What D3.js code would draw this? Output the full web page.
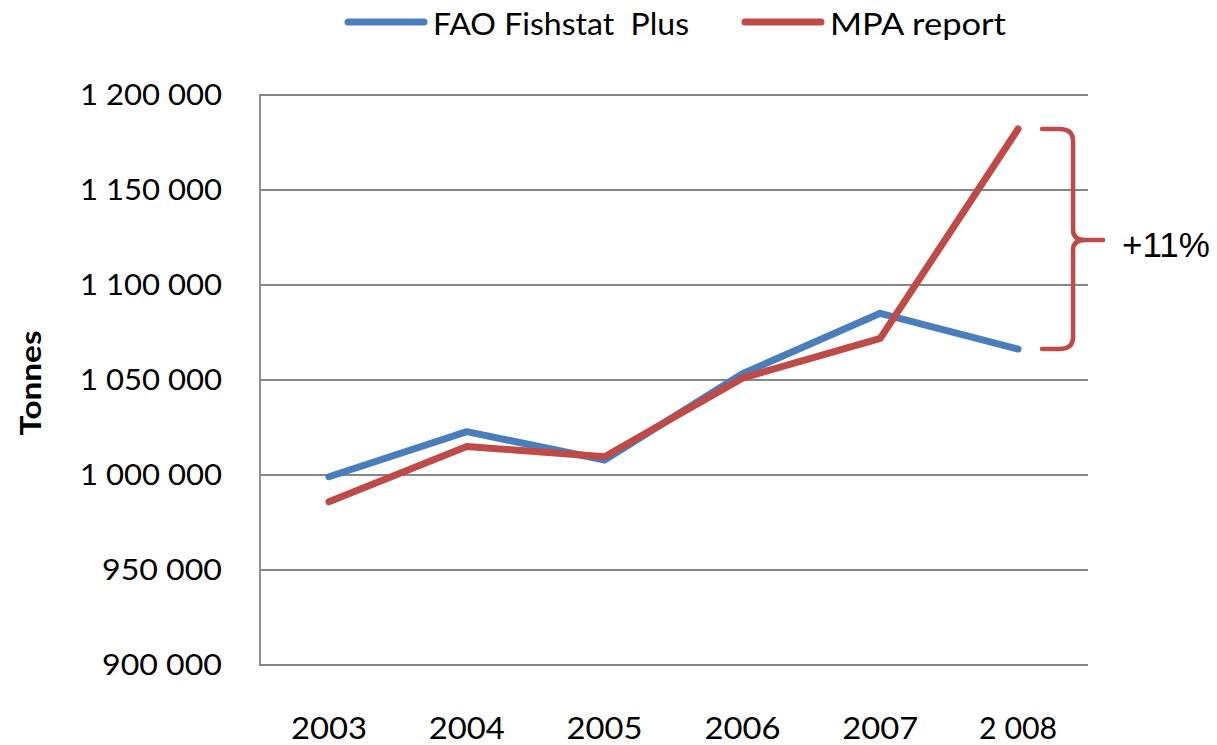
<!DOCTYPE html>
<html><head><meta charset="utf-8">
<script src="https://cdn.jsdelivr.net/npm/d3@7"></script>
<style>body{margin:0;background:#fff}svg{display:block}text{white-space:pre}</style>
</head><body>
<script>
const years = ["2003","2004","2005","2006","2007","2 008"];
const faoValues = [999100, 1022800, 1007900, 1053300, 1085100, 1066300];
const mpaValues = [985900, 1015000, 1009600, 1051000, 1071900, 1182100];
const yTicks = [900000, 950000, 1000000, 1050000, 1100000, 1150000, 1200000];
const seriesNames = ["FAO Fishstat  Plus", "MPA report"];
const annotation = "+11%";

const W = 1217, H = 745;
const m = {left: 260, right: 1087, top: 95, bottom: 665};
const svg = d3.select("body").append("svg").attr("width", W).attr("height", H);
const font = "Lato, 'Open Sans', sans-serif";

const x = d3.scaleBand().domain(years).range([m.left, m.right]);
const y = d3.scaleLinear().domain([900000, 1200000]).range([m.bottom, m.top]);
const fmt = v => d3.format(",")(v).replace(/,/g, " ");

// gridlines
svg.append("g").selectAll("line").data(yTicks.filter(t => t > 900000)).join("line")
  .attr("x1", m.left).attr("x2", m.right + 1)
  .attr("y1", d => y(d)).attr("y2", d => y(d))
  .attr("stroke", "#868686").attr("stroke-width", 1.8);

// axes lines
svg.append("line").attr("x1", m.left).attr("x2", m.left).attr("y1", m.top - 1).attr("y2", m.bottom + 1)
  .attr("stroke", "#868686").attr("stroke-width", 1.8);
svg.append("line").attr("x1", m.left - 1).attr("x2", m.right + 1).attr("y1", m.bottom).attr("y2", m.bottom)
  .attr("stroke", "#868686").attr("stroke-width", 1.8);

// y tick labels
svg.append("g").selectAll("text").data(yTicks).join("text")
  .attr("x", 222).attr("y", d => y(d)).attr("dy", "0.36em")
  .attr("text-anchor", "end").attr("font-family", font).attr("font-size", 29)
  .attr("textLength", d => d >= 1000000 ? 142 : 120).attr("lengthAdjust", "spacingAndGlyphs")
  .attr("fill", "#000").text(d => fmt(d));

// x tick labels
svg.append("g").selectAll("text").data(years).join("text")
  .attr("x", d => x(d) + x.bandwidth() / 2).attr("y", 739)
  .attr("text-anchor", "middle").attr("font-family", font).attr("font-size", 30)
  .attr("textLength", d => d.length > 4 ? 78 : 76).attr("lengthAdjust", "spacingAndGlyphs")
  .attr("fill", "#000").text(d => d);

// y axis title
svg.append("text").attr("transform", "translate(41,383) rotate(-90)")
  .attr("text-anchor", "middle").attr("font-family", font).attr("font-weight", "bold")
  .attr("font-size", 28).attr("textLength", 105).attr("lengthAdjust", "spacingAndGlyphs")
  .text("Tonnes");

// lines
const line = d3.line().x((d, i) => x(years[i]) + x.bandwidth() / 2).y(d => y(d));
const colors = ["#4A7EBB", "#BE4B48"];
[faoValues, mpaValues].forEach((vals, k) => {
  svg.append("path").datum(vals).attr("d", line)
    .attr("fill", "none").attr("stroke", colors[k]).attr("stroke-width", 7)
    .attr("stroke-linecap", "round").attr("stroke-linejoin", "round");
});

// legend
const legend = [
  {x1: 348, x2: 424, tx: 433, len: 256},
  {x1: 745, x2: 821, tx: 830, len: 176}
];
legend.forEach((l, k) => {
  svg.append("line").attr("x1", l.x1).attr("x2", l.x2).attr("y1", 22).attr("y2", 22)
    .attr("stroke", colors[k]).attr("stroke-width", 7).attr("stroke-linecap", "round");
  svg.append("text").attr("x", l.tx).attr("y", 35).attr("font-family", font).attr("font-size", 30)
    .attr("xml:space", "preserve")
    .attr("textLength", l.len).attr("lengthAdjust", "spacingAndGlyphs").text(seriesNames[k]);
});

// brace annotation
const xe = x(years[5]) + x.bandwidth() / 2;
const yt = y(mpaValues[5]), yb = y(faoValues[5]);
const ym = (yt + yb) / 2 + 1;
const bx0 = xe + 24, bx1 = xe + 55, tip = xe + 85;
const p = d3.path();
p.moveTo(bx0, yt);
p.lineTo(bx1 - 14, yt);
p.quadraticCurveTo(bx1, yt, bx1, yt + 12);
p.lineTo(bx1, ym - 10);
p.quadraticCurveTo(bx1, ym, bx1 + 12, ym);
p.lineTo(tip, ym);
p.moveTo(bx1 + 12, ym);
p.quadraticCurveTo(bx1, ym, bx1, ym + 10);
p.lineTo(bx1, yb - 12);
p.quadraticCurveTo(bx1, yb, bx1 - 14, yb);
p.lineTo(bx0, yb);
svg.append("path").attr("d", p.toString()).attr("fill", "none")
  .attr("stroke", "#BE4B48").attr("stroke-width", 4.5).attr("stroke-linecap", "round").attr("stroke-linejoin", "round");

svg.append("text").attr("x", 1122).attr("y", ym + 17)
  .attr("font-family", "'Liberation Sans', Arial, sans-serif").attr("font-size", 35)
  .text(annotation);
</script>
</body></html>
